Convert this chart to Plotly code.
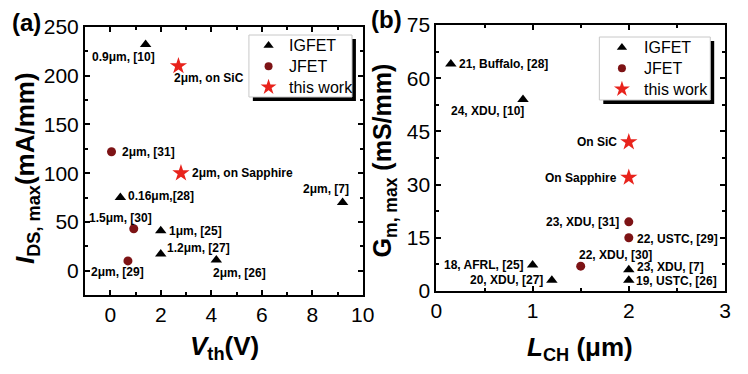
import plotly.graph_objects as go

# ---------------- data ----------------
# panel (a): I_DS,max vs V_th
a_igfet_vth = [1.4, 0.4, 2.0, 2.0, 4.2, 9.2]
a_igfet_ids = [232, 75, 41, 17, 11, 70]
a_igfet_lbl = ["0.9μm, [10]", "0.16μm,[28]", "1μm, [25]", "1.2μm, [27]", "2μm, [26]", "2μm, [7]"]

a_jfet_vth = [0.05, 0.93, 0.7]
a_jfet_ids = [122, 43, 10]
a_jfet_lbl = ["2μm, [31]", "1.5μm, [30]", "2μm, [29]"]

a_this_vth = [2.7, 2.8]
a_this_ids = [210, 100]
a_this_lbl = ["2μm, on SiC", "2μm, on Sapphire"]

# panel (b): Gm,max vs L_CH
b_igfet_L = [0.15, 0.9, 1.0, 1.2, 2.0, 2.0]
b_igfet_gm = [64, 54, 7.3, 3, 6, 3]
b_igfet_lbl = ["21, Buffalo, [28]", "24, XDU, [10]", "18, AFRL, [25]", "20, XDU, [27]",
               "23, XDU, [7]", "19, USTC, [26]"]

b_jfet_L = [2.0, 2.0, 1.5]
b_jfet_gm = [19.5, 15, 7]
b_jfet_lbl = ["23, XDU, [31]", "22, USTC, [29]", "22, XDU, [30]"]

b_this_L = [2.0, 2.0]
b_this_gm = [42, 32]
b_this_lbl = ["On SiC", "On Sapphire"]

series_names = ["IGFET", "JFET", "this work"]

# ---------------- styles ----------------
FONT = "Liberation Sans, Arial, sans-serif"
C_TRI = "black"
C_JFET = "#7d1315"
C_STAR = "#e8231c"
SYMBOLS = ["triangle-up", "circle", "star"]
COLORS = [C_TRI, C_JFET, C_STAR]
SIZES = [10, 9, 13]

# label placement per point: (xanchor, xshift px, yshift px)
a_igfet_pos = [("center", -22, -12), ("left", 6, 2), ("left", 6, 0), ("left", 4, 6),
               ("center", 23, -13), ("center", -17, 13)]
a_jfet_pos = [("left", 8, 0), ("center", -13, 11), ("center", -10, -11)]
a_this_pos = [("center", 31, -12), ("left", 9, 0)]

b_igfet_pos = [("left", 6, 0), ("center", -35, -12), ("right", -7, 0), ("right", -7, 0),
               ("left", 6, 3), ("left", 5, -1)]
b_jfet_pos = [("right", -8, 0), ("left", 6, -1), ("center", 35, 11)]
b_this_pos = [("right", -10, 0), ("right", -10, 0)]

W, H = 748, 374
ML, MR, MT, MB = 85, 11, 25, 79
PW = W - ML - MR
PH = H - MT - MB

# panel boxes in page pixels (left, top, right, bottom) and axis ranges
A_BOX = (85, 27, 368, 295)
B_BOX = (443, 25, 737, 291)
A_XR, A_YR = [-1, 10], [-25, 250]
B_XR, B_YR = [0, 3], [0, 75]


def px(xp):
    return (xp - ML) / PW


def py(yp):
    return (H - MB - yp) / PH


def to_data(box, xr, yr, xp, yp):
    l, t, r, b = box
    return (xr[0] + (xp - l) / (r - l) * (xr[1] - xr[0]),
            yr[0] + (b - yp) / (b - t) * (yr[1] - yr[0]))


# legend boxes in page pixels: (left, top, right, bottom, marker x, text x, first row y, row step)
LEG_BOXES = [(252, 35, 357, 97, 272, 291, 45.5, 20.8),
             (609, 37, 722, 100, 632, 652, 47.5, 20.8)]
LEG_AXES = [("x", "y", A_BOX, A_XR, A_YR), ("x2", "y2", B_BOX, B_XR, B_YR)]

fig = go.Figure()


def add_series(xs, ys, k, xa, ya):
    fig.add_trace(go.Scatter(
        x=xs, y=ys, mode="markers", name=series_names[k],
        marker=dict(symbol=SYMBOLS[k], color=COLORS[k], size=SIZES[k], line=dict(width=0)),
        xaxis=xa, yaxis=ya, showlegend=False))


add_series(a_igfet_vth, a_igfet_ids, 0, "x", "y")
add_series(a_jfet_vth, a_jfet_ids, 1, "x", "y")
add_series(a_this_vth, a_this_ids, 2, "x", "y")
add_series(b_igfet_L, b_igfet_gm, 0, "x2", "y2")
add_series(b_jfet_L, b_jfet_gm, 1, "x2", "y2")
add_series(b_this_L, b_this_gm, 2, "x2", "y2")

annotations = []
shapes = []

# manual legends with drop shadow
for (l, t, r, b, mx, tx, y0, dy), (xa, ya, box, xr, yr) in zip(LEG_BOXES, LEG_AXES):
    shapes.append(dict(type="rect", xref="paper", yref="paper",
                       x0=px(l + 4), x1=px(r + 4), y0=py(b + 4), y1=py(t + 4),
                       fillcolor="black", line=dict(width=0), layer="below"))
    shapes.append(dict(type="rect", xref="paper", yref="paper",
                       x0=px(l), x1=px(r), y0=py(b), y1=py(t),
                       fillcolor="white", line=dict(color="#c8c8c8", width=1), layer="below"))
    for k, name in enumerate(series_names):
        yy = y0 + k * dy
        lx, ly = to_data(box, xr, yr, mx, yy)
        fig.add_trace(go.Scatter(
            x=[lx], y=[ly], mode="markers", xaxis=xa, yaxis=ya, showlegend=False,
            hoverinfo="skip",
            marker=dict(symbol=SYMBOLS[k], color=COLORS[k], size=SIZES[k] - 1, line=dict(width=0))))
        annotations.append(dict(x=px(tx), y=py(yy), xref="paper", yref="paper", text=name,
                                showarrow=False, xanchor="left", yanchor="middle",
                                font=dict(family=FONT, size=16, color="black")))


def add_labels(xs, ys, lbls, pos, xref, yref):
    for xv, yv, t, (anc, dx, dy) in zip(xs, ys, lbls, pos):
        annotations.append(dict(
            x=xv, y=yv, xref=xref, yref=yref, text="<b>%s</b>" % t, showarrow=False,
            xanchor=anc, yanchor="middle", xshift=dx, yshift=dy,
            font=dict(family=FONT, size=12, color="black")))


add_labels(a_igfet_vth, a_igfet_ids, a_igfet_lbl, a_igfet_pos, "x", "y")
add_labels(a_jfet_vth, a_jfet_ids, a_jfet_lbl, a_jfet_pos, "x", "y")
add_labels(a_this_vth, a_this_ids, a_this_lbl, a_this_pos, "x", "y")
add_labels(b_igfet_L, b_igfet_gm, b_igfet_lbl, b_igfet_pos, "x2", "y2")
add_labels(b_jfet_L, b_jfet_gm, b_jfet_lbl, b_jfet_pos, "x2", "y2")
add_labels(b_this_L, b_this_gm, b_this_lbl, b_this_pos, "x2", "y2")

# axis titles and panel labels
annotations += [
    dict(x=px(25), y=py(168), xref="paper", yref="paper", textangle=-90,
         text="<b><i>I</i><sub>DS, max</sub>(mA/mm)</b>", showarrow=False,
         xanchor="center", yanchor="middle", font=dict(family=FONT, size=26, color="black")),
    dict(x=px(227), y=py(347), xref="paper", yref="paper",
         text="<b><i>V</i><sub>th</sub>(V)</b>", showarrow=False,
         xanchor="center", yanchor="middle", font=dict(family=FONT, size=26, color="black")),
    dict(x=px(390), y=py(160), xref="paper", yref="paper", textangle=-90,
         text="<b>G<sub>m, max</sub> (mS/mm)</b>", showarrow=False,
         xanchor="center", yanchor="middle", font=dict(family=FONT, size=25, color="black")),
    dict(x=px(589), y=py(348), xref="paper", yref="paper",
         text="<b><i>L</i><sub>CH</sub> (μm)</b>", showarrow=False,
         xanchor="center", yanchor="middle", font=dict(family=FONT, size=26, color="black")),
    dict(x=px(25), y=py(22), xref="paper", yref="paper", text="<b>(a)</b>",
         showarrow=False, xanchor="center", yanchor="middle",
         font=dict(family=FONT, size=24, color="black")),
    dict(x=px(392), y=py(20), xref="paper", yref="paper", text="<b>(b)</b>",
         showarrow=False, xanchor="center", yanchor="middle",
         font=dict(family=FONT, size=24, color="black")),
]

axis_common = dict(showline=True, linecolor="black", linewidth=2, mirror="allticks",
                   ticks="inside", ticklen=5, tickwidth=1.5, tickcolor="black",
                   showgrid=False, zeroline=False,
                   tickfont=dict(family=FONT, size=21, color="black"))

fig.update_layout(
    width=W, height=H, margin=dict(l=ML, r=MR, t=MT, b=MB),
    paper_bgcolor="white", plot_bgcolor="white",
    xaxis=dict(domain=[px(A_BOX[0]), px(A_BOX[2])], range=A_XR, dtick=2, tick0=0, anchor="y",
               minor=dict(dtick=1, ticks="inside", ticklen=3, tickcolor="black"), **axis_common),
    yaxis=dict(domain=[py(A_BOX[3]), py(A_BOX[1])], range=A_YR, dtick=50, tick0=0, anchor="x",
               minor=dict(dtick=25, ticks="inside", ticklen=3, tickcolor="black"), **axis_common),
    xaxis2=dict(domain=[px(B_BOX[0]), px(B_BOX[2])], range=B_XR, dtick=1, tick0=0, anchor="y2",
                minor=dict(dtick=0.5, ticks="inside", ticklen=3, tickcolor="black"), **axis_common),
    yaxis2=dict(domain=[py(B_BOX[3]), py(B_BOX[1])], range=B_YR, dtick=15, tick0=0, anchor="x2",
                minor=dict(dtick=7.5, ticks="inside", ticklen=3, tickcolor="black"), **axis_common),
    annotations=annotations,
    shapes=shapes,
    showlegend=False,
)

# remove the browser's default page margin so the figure sits at the window origin
fig.write_html("out.html", config={"displayModeBar": False},
               post_script="document.body.style.margin='0px';")
